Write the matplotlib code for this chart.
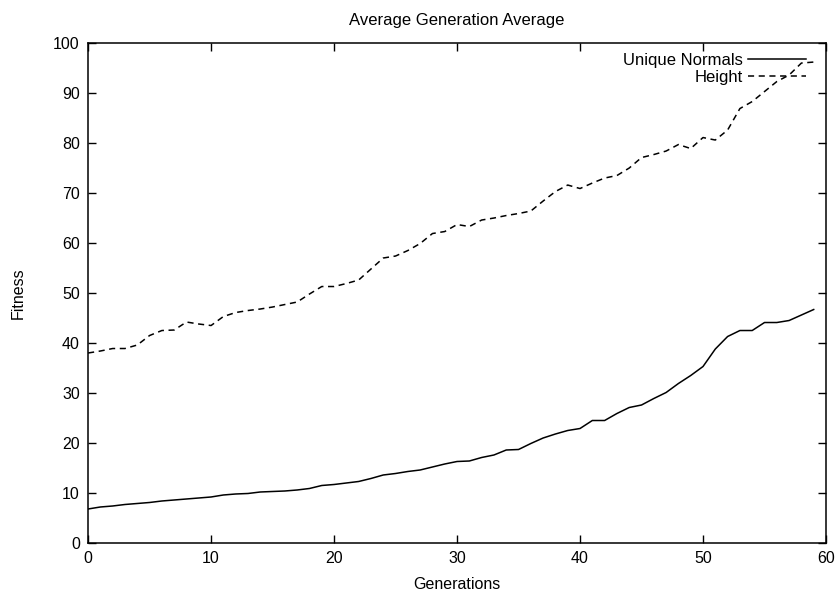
import matplotlib
matplotlib.use('Agg')
import matplotlib.pyplot as plt

plt.rcParams['font.family'] = ['Liberation Sans', 'DejaVu Sans']

generations = list(range(60))
unique_normals = [6.8, 7.2, 7.4, 7.7, 7.9, 8.1, 8.4, 8.6, 8.8, 9.0,
                  9.2, 9.6, 9.8, 9.9, 10.2, 10.3, 10.4, 10.6, 10.9, 11.5,
                  11.7, 12.0, 12.3, 12.9, 13.6, 13.9, 14.3, 14.6, 15.2, 15.8,
                  16.3, 16.4, 17.1, 17.6, 18.6, 18.7, 19.9, 21.0, 21.8, 22.5,
                  22.9, 24.5, 24.5, 25.9, 27.1, 27.6, 28.9, 30.1, 31.9, 33.5,
                  35.3, 38.8, 41.3, 42.5, 42.5, 44.1, 44.1, 44.5, 45.6, 46.7]
height = [38.0, 38.4, 38.9, 38.9, 39.6, 41.5, 42.5, 42.6, 44.2, 43.8,
          43.5, 45.3, 46.1, 46.5, 46.8, 47.2, 47.7, 48.2, 49.8, 51.3,
          51.3, 51.9, 52.6, 54.8, 57.0, 57.4, 58.5, 59.9, 61.9, 62.3,
          63.7, 63.3, 64.6, 65.0, 65.5, 65.9, 66.4, 68.4, 70.3, 71.6,
          70.9, 72.0, 73.0, 73.5, 75.0, 77.1, 77.7, 78.4, 79.7, 78.9,
          81.1, 80.6, 82.6, 86.9, 88.3, 90.3, 92.3, 93.6, 96.0, 96.2]

fig = plt.figure(figsize=(8.39, 5.98), dpi=100)
ax = fig.add_axes([0.105, 0.092, 0.8795, 0.836])

ax.plot(generations, unique_normals, color='black', linewidth=1.1, label='Unique Normals')
ax.plot(generations, height, color='black', linewidth=1.1, linestyle=(0, (4, 3)), label='Height')

ax.set_xlim(0, 60)
ax.set_ylim(0, 100)
ax.set_xticks(range(0, 61, 10))
ax.set_yticks(range(0, 101, 10))
ax.tick_params(direction='in', length=6, width=1, top=True, right=True,
               labelsize=11.5, pad=6)
for s in ax.spines.values():
    s.set_linewidth(1.1)

ax.set_title('Average Generation Average', fontsize=12, pad=13)
ax.set_xlabel('Generations', fontsize=11.5, labelpad=8)
ax.set_ylabel('Fitness', fontsize=11.5, labelpad=20)

leg = ax.legend(loc='upper right', frameon=False, markerfirst=False, fontsize=12,
                handlelength=3.5, handletextpad=0.3, labelspacing=0.1,
                borderaxespad=0.2, bbox_to_anchor=(0.987, 1.0))
leg._legend_box.get_children()[1].get_children()[0].align = 'right'

fig.savefig('out.png', dpi=100)
